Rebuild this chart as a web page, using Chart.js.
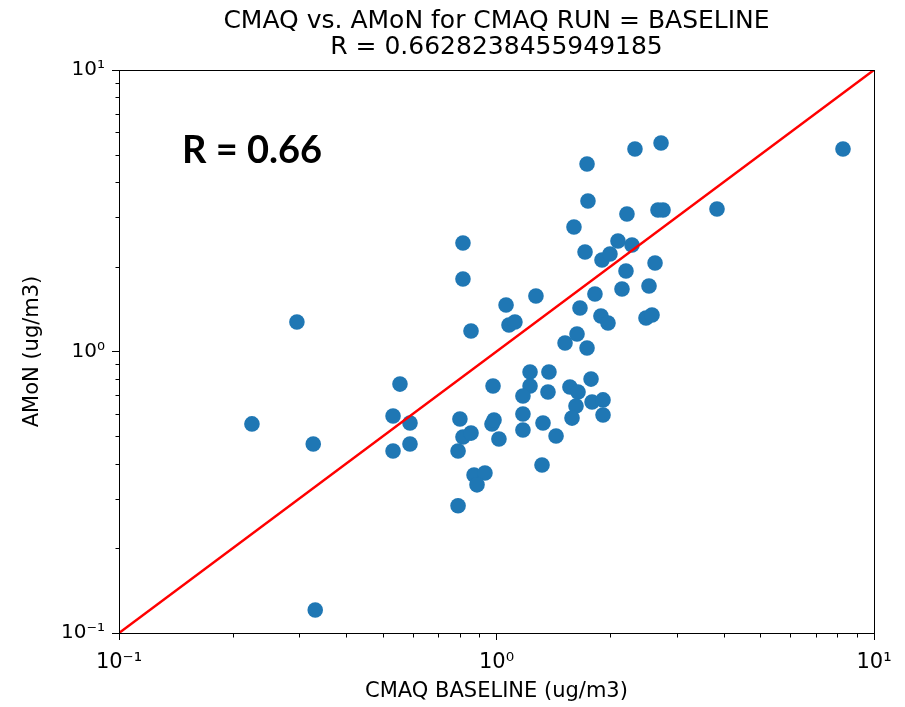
<!DOCTYPE html>
<html>
<head>
<meta charset="utf-8">
<script src="https://cdn.jsdelivr.net/npm/chart.js@4.4.1/dist/chart.umd.min.js"></script>
<style>
html,body{margin:0;padding:0;background:#ffffff;}
#wrap{width:905px;height:707px;}
</style>
</head>
<body>
<div id="wrap"><canvas id="c" width="905" height="707"></canvas></div>
<script>
// ---- data ----
const titleLines = ["CMAQ vs. AMoN for CMAQ RUN = BASELINE", "R = 0.6628238455949185"];
const xAxisLabel = "CMAQ BASELINE (ug/m3)";
const yAxisLabel = "AMoN (ug/m3)";
const annotationText = "R = 0.66";

const cmaqBaseline = [0.225,0.296,0.327,0.331,0.555,0.532,0.590,0.590,0.532,0.800,
  0.815,0.856,0.791,0.791,0.872,0.932,0.888,0.815,0.815,0.856,
  1.060,1.079,1.119,1.272,0.979,0.973,0.985,1.015,1.227,1.227,
  1.175,1.175,1.175,1.377,1.369,1.328,1.438,1.320,1.519,1.737,
  1.634,1.664,1.565,1.644,1.780,1.624,1.585,1.791,1.915,1.915,
  1.823,1.891,1.974,2.150,2.203,2.535,2.630,2.489,2.582,1.716,
  1.903,1.998,2.098,2.285,1.604,1.747,1.737,2.327,2.728,2.216,
  2.678,2.761,3.838,8.277];
const amonValues = [0.553,1.273,0.469,0.1207,0.766,0.590,0.557,0.469,0.443,0.576,
  0.497,0.513,0.443,0.283,0.364,0.370,0.336,2.429,1.809,1.183,
  1.463,1.242,1.273,1.575,0.754,0.553,0.571,0.489,0.846,0.754,
  0.695,0.600,0.526,0.846,0.718,0.557,0.501,0.395,1.072,1.029,
  1.154,1.427,0.748,0.718,0.798,0.640,0.580,0.662,0.673,0.595,
  1.601,1.337,1.262,1.667,1.932,1.709,2.063,1.315,1.348,2.257,
  2.113,2.220,2.469,2.389,2.769,3.424,4.636,5.241,5.504,3.079,
  3.183,3.183,3.208,5.241];

const oneToOneX = [0.1, 10];
const oneToOneY = [0.1, 10];

const majorTicks = [0.1, 1, 10];
const majorTickLabels = ["10\u207B\u00B9", "10\u2070", "10\u00B9"];
const minorTicks = [0.2,0.3,0.4,0.5,0.6,0.7,0.8,0.9,2,3,4,5,6,7,8,9];

// ---- helpers ----
const isMajor = v => majorTicks.some(m => Math.abs(m - v) < 1e-9);
const labelFor = v => { const i = majorTicks.findIndex(m => Math.abs(m - v) < 1e-9); return i >= 0 ? majorTickLabels[i] : ''; };
const allTicks = majorTicks.concat(minorTicks).sort((a,b)=>a-b);

const scatterData = cmaqBaseline.map((x,i)=>({x:x, y:amonValues[i]}));
const lineData = oneToOneX.map((x,i)=>({x:x, y:oneToOneY[i]}));

const decor = {
  id: 'decor',
  afterDraw(chart) {
    const ctx = chart.ctx, a = chart.chartArea, sx = chart.scales.x, sy = chart.scales.y;
    ctx.save();
    // frame (all four spines)
    ctx.strokeStyle = '#000'; ctx.lineWidth = 1;
    const L = Math.round(a.left)+0.5, R = Math.round(a.right)+0.5, T = Math.round(a.top)+0.5, B = Math.round(a.bottom)+0.5;
    ctx.strokeRect(L, T, R-L, B-T);
    // minor ticks
    ctx.beginPath();
    minorTicks.forEach(v => {
      const px = Math.round(sx.getPixelForValue(v)) + 0.5;
      ctx.moveTo(px, B); ctx.lineTo(px, B + 4);
      const py = Math.round(sy.getPixelForValue(v)) + 0.5;
      ctx.moveTo(L, py); ctx.lineTo(L - 4, py);
    });
    ctx.stroke();
    // title
    ctx.fillStyle = '#000';
    ctx.textAlign = 'center'; ctx.textBaseline = 'middle';
    ctx.font = '25px "DejaVu Sans"';
    const cx = (a.left + a.right) / 2;
    ctx.fillText(titleLines[0], cx, 21);
    ctx.fillText(titleLines[1], cx, 47);
    // annotation
    ctx.textAlign = 'left'; ctx.textBaseline = 'alphabetic';
    ctx.font = 'bold 38px Lato';
    ctx.fillText(annotationText, 182, 163);
    ctx.restore();
  }
};

function axisCommon(labelText, fontSize, titleFont, titlePad) {
  return {
    type: 'logarithmic',
    min: 0.1, max: 10,
    afterBuildTicks: s => { s.ticks = allTicks.map(v => ({value: v, major: isMajor(v)})); },
    ticks: {
      autoSkip: false, maxRotation: 0, minRotation: 0,
      color: '#000',
      font: {family: '"DejaVu Sans"', size: fontSize},
      callback: v => labelFor(v)
    },
    grid: {
      display: true, drawOnChartArea: false, drawTicks: true, tickLength: 7,
      lineWidth: 1,
      tickColor: c => (c.tick && isMajor(c.tick.value)) ? '#000' : 'rgba(0,0,0,0)'
    },
    border: {display: true, color: '#000', width: 1},
    title: {display: true, text: labelText, color: '#000', font: {family: '"DejaVu Sans"', size: titleFont}, padding: titlePad}
  };
}

function build() {
  const xs = axisCommon(xAxisLabel, 21, 21, {top: 0, bottom: 3});
  xs.position = 'bottom';
  xs.ticks.padding = 10;
  xs.afterFit = s => { s.height = 74; };
  const ys = axisCommon(yAxisLabel, 20, 21, {top: 20, bottom: 0});
  ys.position = 'left';
  ys.ticks.padding = 7;
  ys.afterFit = s => { s.width = 119; };

  new Chart(document.getElementById('c'), {
    type: 'scatter',
    data: {
      datasets: [
        {type: 'line', label: '1:1', data: lineData, borderColor: '#ff0000', borderWidth: 2.5,
         pointRadius: 0, fill: false, tension: 0},
        {type: 'scatter', label: 'sites', data: scatterData, backgroundColor: '#1f77b4',
         borderColor: '#1f77b4', borderWidth: 0, pointRadius: 7.8, pointHoverRadius: 7.8}
      ]
    },
    options: {
      responsive: false, animation: false, devicePixelRatio: 1,
      layout: {padding: {left: 0, top: 70, right: 31, bottom: 0}},
      plugins: {legend: {display: false}, tooltip: {enabled: false}, title: {display: false}},
      events: [],
      scales: {x: xs, y: ys}
    },
    plugins: [decor]
  });
}

const loads = ['25px "DejaVu Sans"', 'bold 38px Lato'].map(f => document.fonts ? document.fonts.load(f).catch(()=>{}) : Promise.resolve());
Promise.race([Promise.all(loads), new Promise(r => setTimeout(r, 800))]).then(build);
</script>
</body>
</html>
